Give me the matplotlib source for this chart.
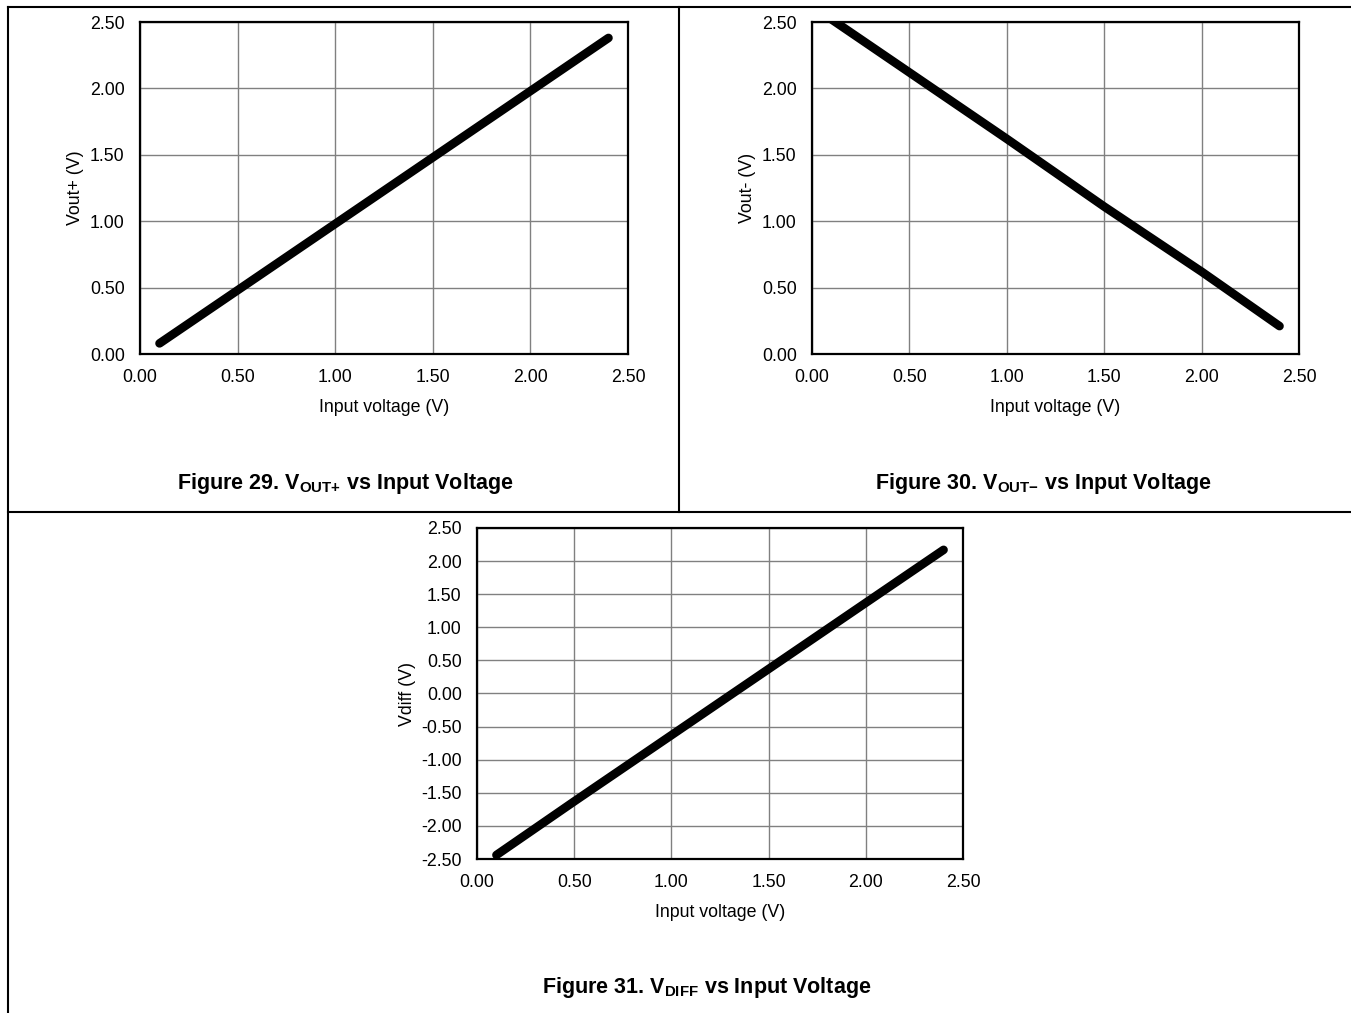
import matplotlib
matplotlib.use("Agg")
import matplotlib.pyplot as plt
from matplotlib.lines import Line2D

plt.rcParams['font.family'] = ['Liberation Sans', 'DejaVu Sans']
plt.rcParams['mathtext.fontset'] = 'custom'
plt.rcParams['mathtext.rm'] = 'Liberation Sans'
plt.rcParams['mathtext.bf'] = 'Liberation Sans:bold'
plt.rcParams['mathtext.it'] = 'Liberation Sans:italic'

# ---- data ----
vin = [0.10, 0.50, 1.00, 1.50, 2.00, 2.40]
vout_plus = [0.08, 0.48, 0.98, 1.48, 1.98, 2.38]
vout_minus = [2.52, 2.12, 1.62, 1.11, 0.62, 0.21]
vdiff = [-2.44, -1.63, -0.63, 0.37, 1.37, 2.17]

x_ticks = [0.0, 0.5, 1.0, 1.5, 2.0, 2.5]
x_ticklabels = ["0.00", "0.50", "1.00", "1.50", "2.00", "2.50"]
y_ticks_pos = [0.0, 0.5, 1.0, 1.5, 2.0, 2.5]
y_ticklabels_pos = ["0.00", "0.50", "1.00", "1.50", "2.00", "2.50"]
y_ticks_diff = [-2.5, -2.0, -1.5, -1.0, -0.5, 0.0, 0.5, 1.0, 1.5, 2.0, 2.5]
y_ticklabels_diff = ["-2.50", "-2.00", "-1.50", "-1.00", "-0.50", "0.00",
                     "0.50", "1.00", "1.50", "2.00", "2.50"]

W, H = 1351, 1013
fig = plt.figure(figsize=(W / 100, H / 100), dpi=100)


def rect(l, t, r, b):
    return [l / W, 1 - b / H, (r - l) / W, (b - t) / H]


def make_ax(box, y, yticks, yticklabels, ylim, ylabel):
    ax = fig.add_axes(rect(*box))
    ax.plot(vin, y, color='black', lw=6.2, solid_capstyle='round', zorder=3)
    ax.set_xlim(0, 2.5)
    ax.set_ylim(*ylim)
    ax.set_xticks(x_ticks)
    ax.set_xticklabels(x_ticklabels)
    ax.set_yticks(yticks)
    ax.set_yticklabels(yticklabels)
    ax.tick_params(length=0, labelsize=12.8, pad=11)
    ax.grid(True, color='#808080', lw=1.0)
    ax.set_axisbelow(True)
    for s in ax.spines.values():
        s.set_linewidth(1.6)
        s.set_color('black')
    ax.set_xlabel("Input voltage (V)", fontsize=12.8, labelpad=9)
    ax.set_ylabel(ylabel, fontsize=12.8, labelpad=4)
    return ax


make_ax((140, 22, 628, 354), vout_plus, y_ticks_pos, y_ticklabels_pos, (0, 2.5), "Vout+ (V)")
make_ax((812, 22, 1299, 354), vout_minus, y_ticks_pos, y_ticklabels_pos, (0, 2.5), "Vout- (V)")
make_ax((477, 528, 963, 859), vdiff, y_ticks_diff, y_ticklabels_diff, (-2.5, 2.5), "Vdiff (V)")

# ---- frame lines ----
def fline(xs, ys):
    fig.add_artist(Line2D([x / W for x in xs], [1 - y / H for y in ys],
                          color='black', lw=1.5, transform=fig.transFigure))

fline([8, 1351], [7, 7])
fline([8, 8], [7, 1013])
fline([8, 1351], [512, 512])
fline([679, 679], [7, 512])

# ---- captions ----
cap = dict(fontsize=15.5, fontweight='bold', ha='center', va='center')
fig.text(345 / W, 1 - 483 / H, r"Figure 29. $\mathbf{V}_{\mathbf{OUT{+}}}$ vs Input Voltage", **cap)
fig.text(1043 / W, 1 - 483 / H, "Figure 30. $\\mathbf{V}_{\\mathbf{OUT{\u2212}}}$ vs Input Voltage", **cap)
fig.text(707 / W, 1 - 987 / H, r"Figure 31. $\mathbf{V}_{\mathbf{DIFF}}$ vs Input Voltage", **cap)

fig.savefig("out.png", dpi=100)
